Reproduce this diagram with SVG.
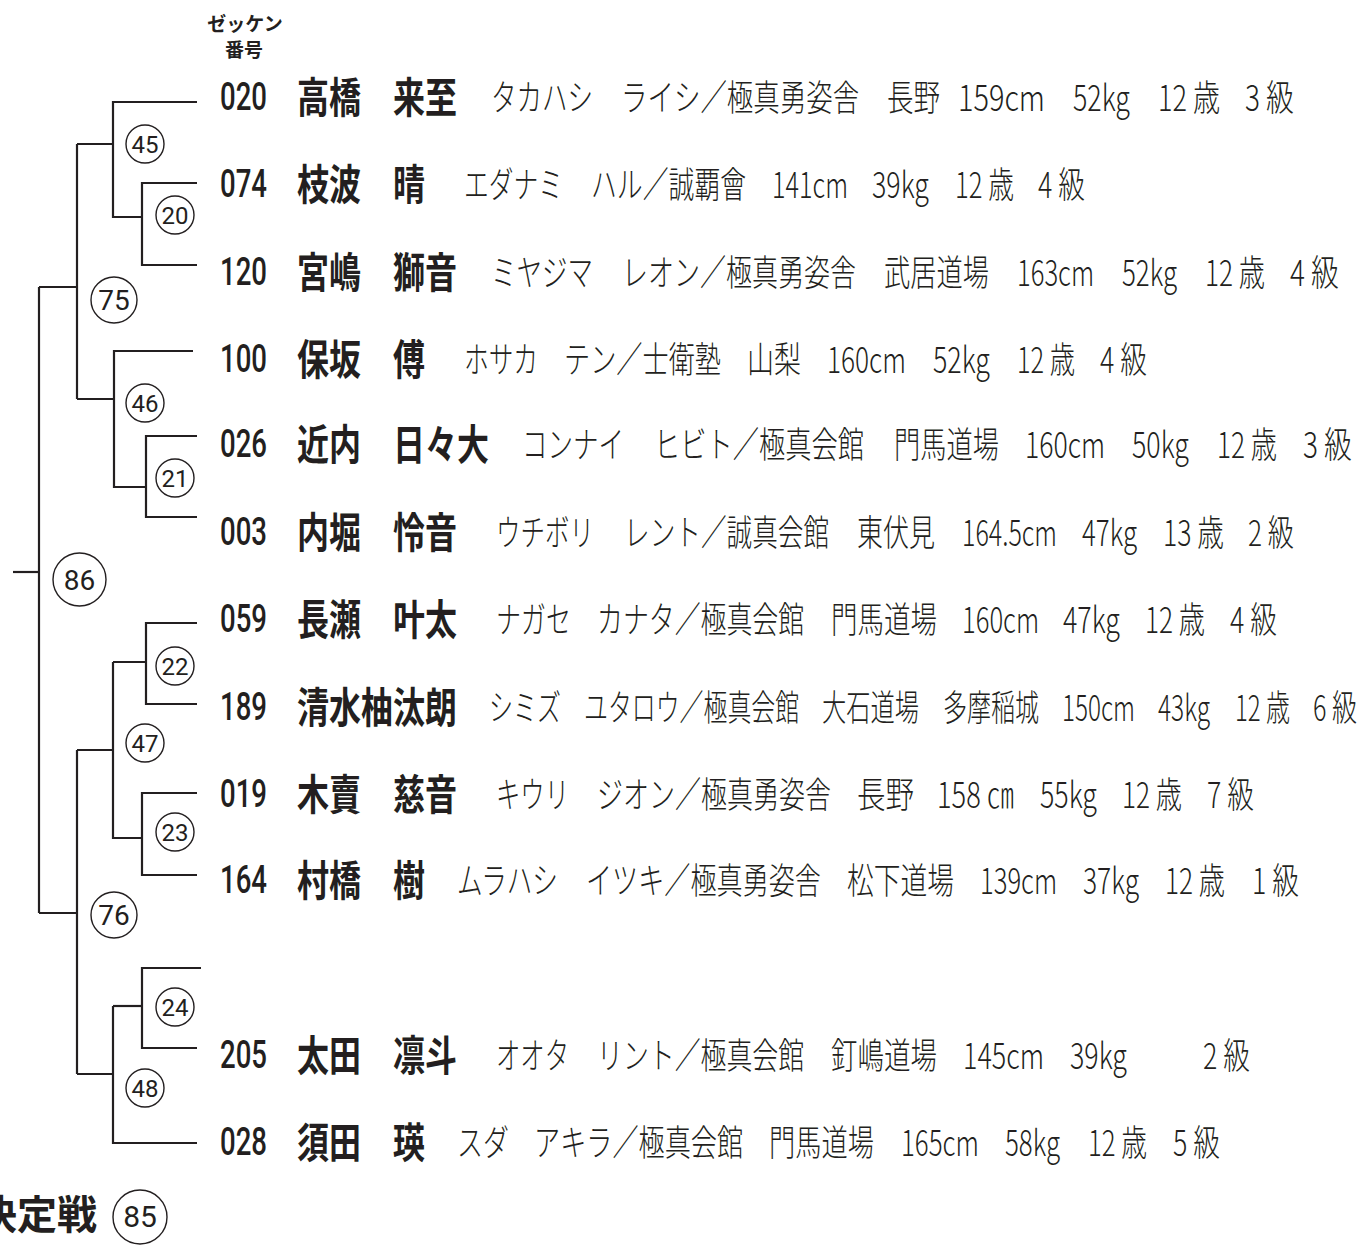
<svg xmlns="http://www.w3.org/2000/svg" width="1361" height="1245" viewBox="0 0 1361 1245">
<style>
.bg{fill:#ffffff}
.ln{fill:none;stroke:#231f20;stroke-width:2.2;stroke-linecap:butt;stroke-linejoin:miter}
.mc{fill:#ffffff;stroke:#231f20;stroke-width:1.4}
.ml{font-family:Roboto,"Liberation Sans",sans-serif;font-size:24px;fill:#231f20;text-anchor:middle}
.mlb{font-family:Roboto,"Liberation Sans",sans-serif;font-size:28px;fill:#231f20;text-anchor:middle}
.num{font-family:Roboto,"Liberation Sans",sans-serif;font-weight:500;font-size:39px;fill:#231f20}
.nm{font-family:"Noto Sans CJK JP","Noto Sans CJK SC",sans-serif;font-weight:700;font-size:42px;fill:#231f20}
.dt{font-family:"Noto Sans CJK JP","Noto Sans CJK SC",sans-serif;font-weight:300;font-size:36px;fill:#231f20}
.hd{font-family:"Noto Sans CJK JP","Noto Sans CJK SC",sans-serif;font-weight:700;font-size:19px;fill:#231f20;text-anchor:middle}
.ttl{font-family:"Noto Sans CJK JP","Noto Sans CJK SC",sans-serif;font-weight:700;font-size:40px;fill:#231f20}
</style>
<rect class="bg" x="0" y="0" width="1361" height="1245"/>

<g id="header">
<text class="hd" x="245" y="31">ゼッケン</text>
<text class="hd" x="244" y="57">番号</text>
</g>

<g id="connectors">
<path class="ln" d="M197,102 H113 V217 H142"/>
<path class="ln" d="M197,183 H142 V265 H197"/>
<path class="ln" d="M77,144 H113"/>
<path class="ln" d="M193,351 H114 V487 H146"/>
<path class="ln" d="M197,436 H146 V517 H197"/>
<path class="ln" d="M77,399 H114"/>
<path class="ln" d="M77,144 V399"/>
<path class="ln" d="M39,287 H77"/>
<path class="ln" d="M197,623 H146 V704 H197"/>
<path class="ln" d="M113,662 H146"/>
<path class="ln" d="M113,662 V838 H142"/>
<path class="ln" d="M197,793 H142 V875 H197"/>
<path class="ln" d="M77,750 H113"/>
<path class="ln" d="M201,968 H142 V1048 H197"/>
<path class="ln" d="M113,1006 H142"/>
<path class="ln" d="M113,1006 V1143 H197"/>
<path class="ln" d="M77,1074 H113"/>
<path class="ln" d="M77,750 V1074"/>
<path class="ln" d="M39,913 H77"/>
<path class="ln" d="M39,287 V913"/>
<path class="ln" d="M13,572 H39"/>
</g>

<g id="match-45"><circle class="mc" cx="145" cy="144" r="19"/><text class="ml" x="145" y="153">45</text></g>
<g id="match-20"><circle class="mc" cx="175" cy="215" r="19"/><text class="ml" x="175" y="224">20</text></g>
<g id="match-75"><circle class="mc" cx="114" cy="300" r="23"/><text class="mlb" x="114" y="310">75</text></g>
<g id="match-46"><circle class="mc" cx="145" cy="403" r="19"/><text class="ml" x="145" y="412">46</text></g>
<g id="match-21"><circle class="mc" cx="175" cy="478" r="19"/><text class="ml" x="175" y="487">21</text></g>
<g id="match-86"><circle class="mc" cx="79.5" cy="579.5" r="26.5"/><text class="mlb" x="79.5" y="589.5">86</text></g>
<g id="match-22"><circle class="mc" cx="175" cy="666" r="19"/><text class="ml" x="175" y="675">22</text></g>
<g id="match-47"><circle class="mc" cx="145" cy="743" r="19"/><text class="ml" x="145" y="752">47</text></g>
<g id="match-23"><circle class="mc" cx="175" cy="832" r="19"/><text class="ml" x="175" y="841">23</text></g>
<g id="match-76"><circle class="mc" cx="114" cy="915" r="23"/><text class="mlb" x="114" y="925">76</text></g>
<g id="match-24"><circle class="mc" cx="175" cy="1007" r="19"/><text class="ml" x="175" y="1016">24</text></g>
<g id="match-48"><circle class="mc" cx="145" cy="1088" r="19"/><text class="ml" x="145" y="1097">48</text></g>

<g id="final-title">
<text class="ttl" x="-23" y="1229">決定戦</text>
<circle class="mc" cx="140" cy="1217" r="27"/><text class="mlb" x="140" y="1227" style="font-size:30px">85</text>
</g>

<g id="p020">
<text class="num" transform="translate(220 110) scale(.712 1)" textLength="66" lengthAdjust="spacingAndGlyphs">020</text>
<text class="nm" transform="translate(297 113) scale(.762 1)" textLength="210" lengthAdjust="spacingAndGlyphs">高橋　来至</text>
<text class="dt" transform="translate(491 111) scale(.708 1)" textLength="144" lengthAdjust="spacingAndGlyphs">タカハシ</text>
<text class="dt" transform="translate(621 111) scale(.735 1)" textLength="324" lengthAdjust="spacingAndGlyphs">ライシ／極真勇姿舎</text>
<text class="dt" transform="translate(887 111) scale(.736 1)" textLength="72" lengthAdjust="spacingAndGlyphs">長野</text>
<text class="dt" transform="translate(958 111) scale(.815 1)" textLength="106.7" lengthAdjust="spacingAndGlyphs">159cm</text>
<text class="dt" transform="translate(1073 111) scale(.723 1)" textLength="78.8" lengthAdjust="spacingAndGlyphs">52kg</text>
<text class="dt" transform="translate(1158 111) scale(.738 1)" textLength="84" lengthAdjust="spacingAndGlyphs">12 歳</text>
<text class="dt" transform="translate(1245 111) scale(.766 1)" textLength="64" lengthAdjust="spacingAndGlyphs">3 級</text>
</g>
<g id="p074">
<text class="num" transform="translate(220 197) scale(.712 1)" textLength="66" lengthAdjust="spacingAndGlyphs">074</text>
<text class="nm" transform="translate(297 200) scale(.762 1)" textLength="168" lengthAdjust="spacingAndGlyphs">枝波　晴</text>
<text class="dt" transform="translate(464 198) scale(.688 1)" textLength="144" lengthAdjust="spacingAndGlyphs">エダナミ</text>
<text class="dt" transform="translate(591 198) scale(.718 1)" textLength="216" lengthAdjust="spacingAndGlyphs">ハル／誠覇會</text>
<text class="dt" transform="translate(772 198) scale(.712 1)" textLength="106.7" lengthAdjust="spacingAndGlyphs">141cm</text>
<text class="dt" transform="translate(872 198) scale(.723 1)" textLength="78.8" lengthAdjust="spacingAndGlyphs">39kg</text>
<text class="dt" transform="translate(955 198) scale(.702 1)" textLength="84" lengthAdjust="spacingAndGlyphs">12 歳</text>
<text class="dt" transform="translate(1038 198) scale(.734 1)" textLength="64" lengthAdjust="spacingAndGlyphs">4 級</text>
</g>
<g id="p120">
<text class="num" transform="translate(220 285) scale(.712 1)" textLength="66" lengthAdjust="spacingAndGlyphs">120</text>
<text class="nm" transform="translate(297 288) scale(.762 1)" textLength="210" lengthAdjust="spacingAndGlyphs">宮嶋　獅音</text>
<text class="dt" transform="translate(491 286) scale(.708 1)" textLength="144" lengthAdjust="spacingAndGlyphs">ミヤジマ</text>
<text class="dt" transform="translate(622 286) scale(.722 1)" textLength="324" lengthAdjust="spacingAndGlyphs">レオン／極真勇姿舎</text>
<text class="dt" transform="translate(884 286) scale(.729 1)" textLength="144" lengthAdjust="spacingAndGlyphs">武居道場</text>
<text class="dt" transform="translate(1017 286) scale(.722 1)" textLength="106.7" lengthAdjust="spacingAndGlyphs">163cm</text>
<text class="dt" transform="translate(1122 286) scale(.698 1)" textLength="78.8" lengthAdjust="spacingAndGlyphs">52kg</text>
<text class="dt" transform="translate(1205 286) scale(.714 1)" textLength="84" lengthAdjust="spacingAndGlyphs">12 歳</text>
<text class="dt" transform="translate(1290 286) scale(.766 1)" textLength="64" lengthAdjust="spacingAndGlyphs">4 級</text>
</g>
<g id="p100">
<text class="num" transform="translate(220 372) scale(.712 1)" textLength="66" lengthAdjust="spacingAndGlyphs">100</text>
<text class="nm" transform="translate(297 375) scale(.762 1)" textLength="168" lengthAdjust="spacingAndGlyphs">保坂　傅</text>
<text class="dt" transform="translate(464 373) scale(.685 1)" textLength="108" lengthAdjust="spacingAndGlyphs">ホサカ</text>
<text class="dt" transform="translate(564 373) scale(.727 1)" textLength="216" lengthAdjust="spacingAndGlyphs">テン／士衛塾</text>
<text class="dt" transform="translate(747 373) scale(.75 1)" textLength="72" lengthAdjust="spacingAndGlyphs">山梨</text>
<text class="dt" transform="translate(827 373) scale(.74 1)" textLength="106.7" lengthAdjust="spacingAndGlyphs">160cm</text>
<text class="dt" transform="translate(933 373) scale(.723 1)" textLength="78.8" lengthAdjust="spacingAndGlyphs">52kg</text>
<text class="dt" transform="translate(1017 373) scale(.69 1)" textLength="84" lengthAdjust="spacingAndGlyphs">12 歳</text>
<text class="dt" transform="translate(1100 373) scale(.734 1)" textLength="64" lengthAdjust="spacingAndGlyphs">4 級</text>
</g>
<g id="p026">
<text class="num" transform="translate(220 457) scale(.712 1)" textLength="66" lengthAdjust="spacingAndGlyphs">026</text>
<text class="nm" transform="translate(297 460) scale(.762 1)" textLength="252" lengthAdjust="spacingAndGlyphs">近内　日々大</text>
<text class="dt" transform="translate(522 458) scale(.708 1)" textLength="144" lengthAdjust="spacingAndGlyphs">コンナイ</text>
<text class="dt" transform="translate(654 458) scale(.729 1)" textLength="288" lengthAdjust="spacingAndGlyphs">ヒビト／極真会館</text>
<text class="dt" transform="translate(894 458) scale(.729 1)" textLength="144" lengthAdjust="spacingAndGlyphs">門馬道場</text>
<text class="dt" transform="translate(1025 458) scale(.75 1)" textLength="106.7" lengthAdjust="spacingAndGlyphs">160cm</text>
<text class="dt" transform="translate(1132 458) scale(.723 1)" textLength="78.8" lengthAdjust="spacingAndGlyphs">50kg</text>
<text class="dt" transform="translate(1217 458) scale(.714 1)" textLength="84" lengthAdjust="spacingAndGlyphs">12 歳</text>
<text class="dt" transform="translate(1303 458) scale(.766 1)" textLength="64" lengthAdjust="spacingAndGlyphs">3 級</text>
</g>
<g id="p003">
<text class="num" transform="translate(220 545) scale(.712 1)" textLength="66" lengthAdjust="spacingAndGlyphs">003</text>
<text class="nm" transform="translate(297 548) scale(.762 1)" textLength="210" lengthAdjust="spacingAndGlyphs">内堀　怜音</text>
<text class="dt" transform="translate(496 546) scale(.681 1)" textLength="144" lengthAdjust="spacingAndGlyphs">ウチボリ</text>
<text class="dt" transform="translate(624 546) scale(.712 1)" textLength="288" lengthAdjust="spacingAndGlyphs">レント／誠真会館</text>
<text class="dt" transform="translate(857 546) scale(.722 1)" textLength="108" lengthAdjust="spacingAndGlyphs">東伏見</text>
<text class="dt" transform="translate(962 546) scale(.7 1)" textLength="135.7" lengthAdjust="spacingAndGlyphs">164.5cm</text>
<text class="dt" transform="translate(1082 546) scale(.698 1)" textLength="78.8" lengthAdjust="spacingAndGlyphs">47kg</text>
<text class="dt" transform="translate(1163 546) scale(.726 1)" textLength="84" lengthAdjust="spacingAndGlyphs">13 歳</text>
<text class="dt" transform="translate(1248 546) scale(.719 1)" textLength="64" lengthAdjust="spacingAndGlyphs">2 級</text>
</g>
<g id="p059">
<text class="num" transform="translate(220 632) scale(.712 1)" textLength="66" lengthAdjust="spacingAndGlyphs">059</text>
<text class="nm" transform="translate(297 635) scale(.762 1)" textLength="210" lengthAdjust="spacingAndGlyphs">長瀬　叶太</text>
<text class="dt" transform="translate(496 633) scale(.694 1)" textLength="108" lengthAdjust="spacingAndGlyphs">ナガセ</text>
<text class="dt" transform="translate(597 633) scale(.719 1)" textLength="288" lengthAdjust="spacingAndGlyphs">カナタ／極真会館</text>
<text class="dt" transform="translate(831 633) scale(.736 1)" textLength="144" lengthAdjust="spacingAndGlyphs">門馬道場</text>
<text class="dt" transform="translate(962 633) scale(.722 1)" textLength="106.7" lengthAdjust="spacingAndGlyphs">160cm</text>
<text class="dt" transform="translate(1063 633) scale(.723 1)" textLength="78.8" lengthAdjust="spacingAndGlyphs">47kg</text>
<text class="dt" transform="translate(1145 633) scale(.714 1)" textLength="84" lengthAdjust="spacingAndGlyphs">12 歳</text>
<text class="dt" transform="translate(1230 633) scale(.734 1)" textLength="64" lengthAdjust="spacingAndGlyphs">4 級</text>
</g>
<g id="p189">
<text class="num" transform="translate(220 720) scale(.712 1)" textLength="66" lengthAdjust="spacingAndGlyphs">189</text>
<text class="nm" transform="translate(297 723) scale(.762 1)" textLength="210" lengthAdjust="spacingAndGlyphs">清水柚汰朗</text>
<text class="dt" transform="translate(489 721) scale(.667 1)" textLength="108" lengthAdjust="spacingAndGlyphs">シミズ</text>
<text class="dt" transform="translate(584 721) scale(.664 1)" textLength="324" lengthAdjust="spacingAndGlyphs">ユタロウ／極真会館</text>
<text class="dt" transform="translate(822 721) scale(.674 1)" textLength="144" lengthAdjust="spacingAndGlyphs">大石道場</text>
<text class="dt" transform="translate(943 721) scale(.667 1)" textLength="144" lengthAdjust="spacingAndGlyphs">多摩稲城</text>
<text class="dt" transform="translate(1062 721) scale(.684 1)" textLength="106.7" lengthAdjust="spacingAndGlyphs">150cm</text>
<text class="dt" transform="translate(1158 721) scale(.66 1)" textLength="78.8" lengthAdjust="spacingAndGlyphs">43kg</text>
<text class="dt" transform="translate(1235 721) scale(.655 1)" textLength="84" lengthAdjust="spacingAndGlyphs">12 歳</text>
<text class="dt" transform="translate(1313 721) scale(.688 1)" textLength="64" lengthAdjust="spacingAndGlyphs">6 級</text>
</g>
<g id="p019">
<text class="num" transform="translate(220 807) scale(.712 1)" textLength="66" lengthAdjust="spacingAndGlyphs">019</text>
<text class="nm" transform="translate(297 810) scale(.762 1)" textLength="210" lengthAdjust="spacingAndGlyphs">木賣　慈音</text>
<text class="dt" transform="translate(496 808) scale(.676 1)" textLength="108" lengthAdjust="spacingAndGlyphs">キウリ</text>
<text class="dt" transform="translate(597 808) scale(.722 1)" textLength="324" lengthAdjust="spacingAndGlyphs">ジオン／極真勇姿舎</text>
<text class="dt" transform="translate(857 808) scale(.792 1)" textLength="72" lengthAdjust="spacingAndGlyphs">長野</text>
<text class="dt" transform="translate(937 808) scale(.74 1)" textLength="104" lengthAdjust="spacingAndGlyphs">158 ㎝</text>
<text class="dt" transform="translate(1040 808) scale(.723 1)" textLength="78.8" lengthAdjust="spacingAndGlyphs">55kg</text>
<text class="dt" transform="translate(1122 808) scale(.714 1)" textLength="84" lengthAdjust="spacingAndGlyphs">12 歳</text>
<text class="dt" transform="translate(1207 808) scale(.734 1)" textLength="64" lengthAdjust="spacingAndGlyphs">7 級</text>
</g>
<g id="p164">
<text class="num" transform="translate(220 893) scale(.712 1)" textLength="66" lengthAdjust="spacingAndGlyphs">164</text>
<text class="nm" transform="translate(297 896) scale(.762 1)" textLength="168" lengthAdjust="spacingAndGlyphs">村橋　樹</text>
<text class="dt" transform="translate(457 894) scale(.701 1)" textLength="144" lengthAdjust="spacingAndGlyphs">ムラハシ</text>
<text class="dt" transform="translate(586 894) scale(.725 1)" textLength="324" lengthAdjust="spacingAndGlyphs">イツキ／極真勇姿舎</text>
<text class="dt" transform="translate(847 894) scale(.743 1)" textLength="144" lengthAdjust="spacingAndGlyphs">松下道場</text>
<text class="dt" transform="translate(980 894) scale(.722 1)" textLength="106.7" lengthAdjust="spacingAndGlyphs">139cm</text>
<text class="dt" transform="translate(1083 894) scale(.711 1)" textLength="78.8" lengthAdjust="spacingAndGlyphs">37kg</text>
<text class="dt" transform="translate(1165 894) scale(.714 1)" textLength="84" lengthAdjust="spacingAndGlyphs">12 歳</text>
<text class="dt" transform="translate(1252 894) scale(.734 1)" textLength="64" lengthAdjust="spacingAndGlyphs">1 級</text>
</g>
<g id="p205">
<text class="num" transform="translate(220 1068) scale(.712 1)" textLength="66" lengthAdjust="spacingAndGlyphs">205</text>
<text class="nm" transform="translate(297 1071) scale(.762 1)" textLength="210" lengthAdjust="spacingAndGlyphs">太田　凛斗</text>
<text class="dt" transform="translate(496 1069) scale(.676 1)" textLength="108" lengthAdjust="spacingAndGlyphs">オオタ</text>
<text class="dt" transform="translate(597 1069) scale(.719 1)" textLength="288" lengthAdjust="spacingAndGlyphs">リント／極真会館</text>
<text class="dt" transform="translate(831 1069) scale(.736 1)" textLength="144" lengthAdjust="spacingAndGlyphs">釘嶋道場</text>
<text class="dt" transform="translate(963 1069) scale(.759 1)" textLength="106.7" lengthAdjust="spacingAndGlyphs">145cm</text>
<text class="dt" transform="translate(1070 1069) scale(.723 1)" textLength="78.8" lengthAdjust="spacingAndGlyphs">39kg</text>
<text class="dt" transform="translate(1203 1069) scale(.734 1)" textLength="64" lengthAdjust="spacingAndGlyphs">2 級</text>
</g>
<g id="p028">
<text class="num" transform="translate(220 1155) scale(.712 1)" textLength="66" lengthAdjust="spacingAndGlyphs">028</text>
<text class="nm" transform="translate(297 1158) scale(.762 1)" textLength="168" lengthAdjust="spacingAndGlyphs">須田　瑛</text>
<text class="dt" transform="translate(457 1156) scale(.722 1)" textLength="72" lengthAdjust="spacingAndGlyphs">スダ</text>
<text class="dt" transform="translate(534 1156) scale(.726 1)" textLength="288" lengthAdjust="spacingAndGlyphs">アキラ／極真会館</text>
<text class="dt" transform="translate(769 1156) scale(.729 1)" textLength="144" lengthAdjust="spacingAndGlyphs">門馬道場</text>
<text class="dt" transform="translate(901 1156) scale(.731 1)" textLength="106.7" lengthAdjust="spacingAndGlyphs">165cm</text>
<text class="dt" transform="translate(1005 1156) scale(.698 1)" textLength="78.8" lengthAdjust="spacingAndGlyphs">58kg</text>
<text class="dt" transform="translate(1088 1156) scale(.702 1)" textLength="84" lengthAdjust="spacingAndGlyphs">12 歳</text>
<text class="dt" transform="translate(1173 1156) scale(.734 1)" textLength="64" lengthAdjust="spacingAndGlyphs">5 級</text>
</g>
</svg>
